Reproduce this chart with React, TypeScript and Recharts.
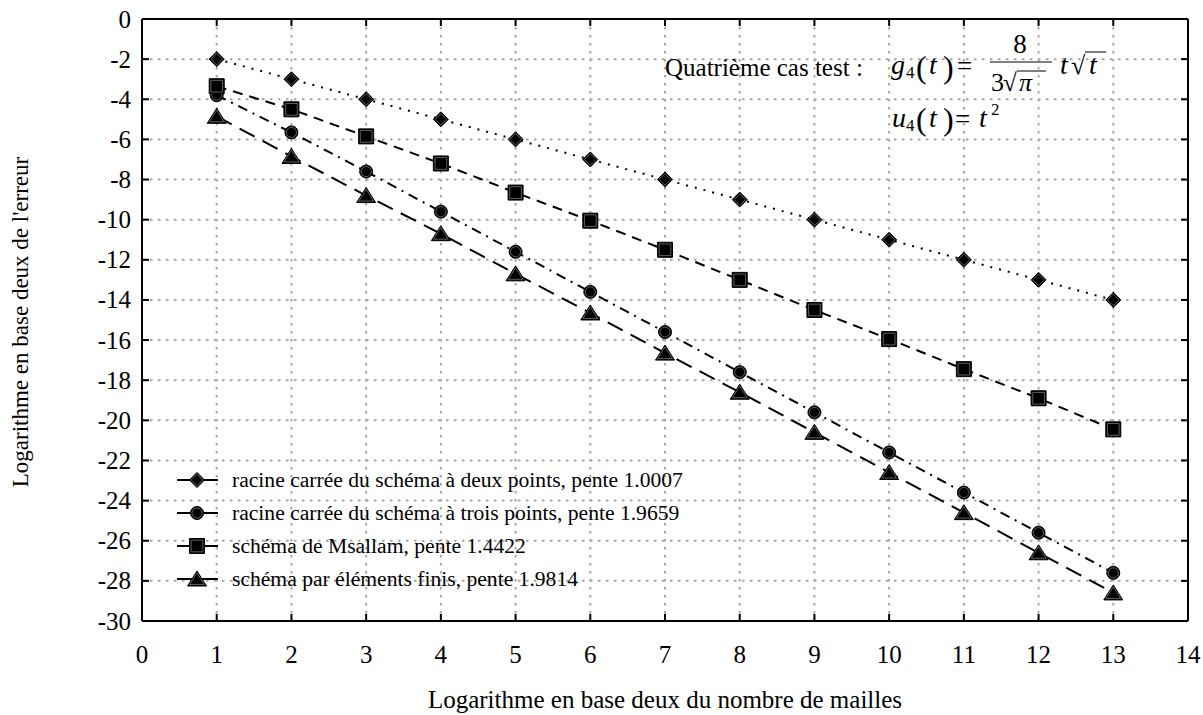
import React from 'react';
import { LineChart, Line, XAxis, YAxis, CartesianGrid, Customized } from 'recharts';

const xValues = [1, 2, 3, 4, 5, 6, 7, 8, 9, 10, 11, 12, 13];
const deuxPoints = [-2, -3, -4, -5, -6, -7, -8, -9, -10, -11, -12, -13, -14];
const troisPoints = [-3.8, -5.65, -7.6, -9.6, -11.6, -13.6, -15.6, -17.6, -19.6, -21.6, -23.6, -25.6, -27.6];
const msallam = [-3.35, -4.5, -5.85, -7.2, -8.65, -10.05, -11.5, -13.0, -14.5, -15.95, -17.45, -18.9, -20.45];
const elementsFinis = [-4.85, -6.85, -8.8, -10.7, -12.7, -14.65, -16.65, -18.6, -20.6, -22.6, -24.6, -26.6, -28.6];

const xTicks = [0, 1, 2, 3, 4, 5, 6, 7, 8, 9, 10, 11, 12, 13, 14];
const yTicks = [0, -2, -4, -6, -8, -10, -12, -14, -16, -18, -20, -22, -24, -26, -28, -30];

const seriesNames = [
  'racine carrée du schéma à deux points, pente 1.0007',
  'racine carrée du schéma à trois points, pente 1.9659',
  'schéma de Msallam, pente 1.4422',
  'schéma par éléments finis, pente 1.9814',
];
const seriesKeys = ['deux', 'trois', 'msallam', 'ef'];
const seriesShapes = ['diamond', 'circle', 'square', 'triangle'];
const seriesDash = ['2 7', '10 6 2 6', '10 7', '17 9'];

const xTitle = 'Logarithme en base deux du nombre de mailles';
const yTitle = "Logarithme en base deux de l'erreur";

const data = xValues.map((x, i) => ({
  x,
  deux: deuxPoints[i],
  trois: troisPoints[i],
  msallam: msallam[i],
  ef: elementsFinis[i],
}));

const FONT = "'Liberation Serif', 'Times New Roman', serif";

function shapePath(kind: string, cx: number, cy: number, s: number) {
  switch (kind) {
    case 'diamond':
      return `M${cx},${cy - 7.5 * s}L${cx + 7.5 * s},${cy}L${cx},${cy + 7.5 * s}L${cx - 7.5 * s},${cy}Z`;
    case 'square':
      return `M${cx - 7.5 * s},${cy - 7.5 * s}H${cx + 7.5 * s}V${cy + 7.5 * s}H${cx - 7.5 * s}Z`;
    case 'triangle':
      return `M${cx},${cy - 8 * s}L${cx + 9.5 * s},${cy + 7 * s}H${cx - 9.5 * s}Z`;
    default: {
      const r = 6.5 * s;
      return `M${cx - r},${cy}A${r},${r} 0 1,0 ${cx + r},${cy}A${r},${r} 0 1,0 ${cx - r},${cy}Z`;
    }
  }
}

function Marker({ kind, cx, cy }: { kind: string; cx: number; cy: number }) {
  return (
    <g>
      <path d={shapePath(kind, cx, cy, 1)} fill="#000" stroke="#000" strokeWidth={1} />
      <path d={shapePath(kind, cx, cy, 0.78)} fill="none" stroke="#777" strokeWidth={0.8} />
    </g>
  );
}

const makeDot = (kind: string) => (props: any) => {
  const { cx, cy, index } = props;
  if (cx == null || cy == null) return <g key={`d-${kind}-${index}`} />;
  return (
    <g key={`d-${kind}-${index}`}>
      <Marker kind={kind} cx={cx} cy={cy} />
    </g>
  );
};

const BottomTick = (props: any) => {
  const { x, y, payload } = props;
  return (
    <g>
      <line x1={x} x2={x} y1={y} y2={y - 7} stroke="#000" strokeWidth={2} />
      <text x={x} y={y + 42} textAnchor="middle" fontFamily={FONT} fontSize={25} fill="#000">
        {payload.value}
      </text>
    </g>
  );
};

const LeftTick = (props: any) => {
  const { x, y, payload } = props;
  return (
    <g>
      <line x1={x} x2={x + 7} y1={y} y2={y} stroke="#000" strokeWidth={2} />
      <text x={x - 11} y={y + 8.5} textAnchor="end" fontFamily={FONT} fontSize={25} fill="#000">
        {payload.value}
      </text>
    </g>
  );
};

const TopTick = (props: any) => {
  const { x, y } = props;
  return <line x1={x} x2={x} y1={y} y2={y + 7} stroke="#000" strokeWidth={2} />;
};

const RightTick = (props: any) => {
  const { x, y } = props;
  return <line x1={x} x2={x - 7} y1={y} y2={y} stroke="#000" strokeWidth={2} />;
};

const LegendSvg = () => {
  const x0 = 177;
  const rows = [480, 513, 546, 579];
  return (
    <g>
      {seriesNames.map((name, i) => {
        const y = rows[i];
        return (
          <g key={name}>
            <line x1={x0} x2={x0 + 41} y1={y} y2={y} stroke="#000" strokeWidth={2} />
            <Marker kind={seriesShapes[i]} cx={x0 + 20} cy={y} />
            <text x={x0 + 55} y={y + 7} fontFamily={FONT} fontSize={21.6} fill="#000">
              {name}
            </text>
          </g>
        );
      })}
    </g>
  );
};

const Annotations = () => {
  const it = { fontFamily: FONT, fontStyle: 'italic' as const, fill: '#000' };
  const up = { fontFamily: FONT, fill: '#000' };
  return (
    <g>
      <text x={665} y={76} fontSize={25} {...up}>Quatrième cas test :</text>
      <text x={891} y={74} fontSize={28} {...it}>g</text>
      <text x={906} y={78} fontSize={17} {...up}>4</text>
      <text x={916} y={78} fontSize={32} {...up}>(</text>
      <text x={929} y={74} fontSize={28} {...it}>t</text>
      <text x={943} y={78} fontSize={32} {...up}>)</text>
      <text x={957} y={75} fontSize={27} {...up}>=</text>
      <text x={1020} y={53} fontSize={27} textAnchor="middle" {...up}>8</text>
      <line x1={990} x2={1052} y1={62} y2={62} stroke="#000" strokeWidth={1.2} />
      <text x={991} y={91} fontSize={26} {...up}>3</text>
      <text x={1003} y={91} fontSize={25} {...up}>√</text>
      <line x1={1017} x2={1046} y1={71} y2={71} stroke="#000" strokeWidth={1} />
      <text x={1019} y={91} fontSize={26} {...it}>π</text>
      <text x={1060} y={74} fontSize={28} {...it}>t</text>
      <text x={1071} y={74} fontSize={26} {...up}>√</text>
      <line x1={1085} x2={1106} y1={52} y2={52} stroke="#000" strokeWidth={1} />
      <text x={1089} y={74} fontSize={28} {...it}>t</text>
      <text x={892} y={127} fontSize={28} {...it}>u</text>
      <text x={906} y={131} fontSize={17} {...up}>4</text>
      <text x={916} y={130} fontSize={32} {...up}>(</text>
      <text x={929} y={127} fontSize={28} {...it}>t</text>
      <text x={943} y={130} fontSize={32} {...up}>)</text>
      <text x={955} y={128} fontSize={27} {...up}>=</text>
      <text x={979} y={127} fontSize={28} {...it}>t</text>
      <text x={991} y={115} fontSize={17} {...up}>2</text>
      <text x={665} y={708} fontSize={25} textAnchor="middle" {...up}>{xTitle}</text>
      <text x={0} y={0} fontSize={23} textAnchor="middle" transform="translate(28,322) rotate(-90)" {...up}>
        {yTitle}
      </text>
      <LegendSvg />
    </g>
  );
};

export default function App() {
  return (
    <div style={{ position: 'absolute', left: 0, top: 0, width: 1203, height: 715, background: '#fff' }}>
      <LineChart
        width={1203}
        height={715}
        data={data}
        margin={{ top: 18, right: 14, bottom: 34, left: 82 }}
        style={{ fontFamily: FONT }}
      >
        <CartesianGrid stroke="#a6a6a6" strokeWidth={2} strokeDasharray="2.5 5.5" />
        <XAxis
          xAxisId={0}
          dataKey="x"
          type="number"
          domain={[0, 14]}
          ticks={xTicks}
          height={60}
          tickSize={0}
          tickMargin={0}
          tickLine={false}
          axisLine={{ stroke: '#000', strokeWidth: 2 }}
          tick={BottomTick}
          interval={0}
          allowDataOverflow
        />
        <XAxis
          xAxisId="top"
          orientation="top"
          dataKey="x"
          type="number"
          domain={[0, 14]}
          ticks={xTicks}
          height={1}
          tickSize={0}
          tickMargin={0}
          tickLine={false}
          axisLine={{ stroke: '#000', strokeWidth: 2 }}
          tick={TopTick}
          interval={0}
          allowDataOverflow
        />
        <YAxis
          yAxisId={0}
          type="number"
          domain={[-30, 0]}
          ticks={yTicks}
          width={60}
          tickSize={0}
          tickMargin={0}
          tickLine={false}
          axisLine={{ stroke: '#000', strokeWidth: 2 }}
          tick={LeftTick}
          interval={0}
          allowDataOverflow
        />
        <YAxis
          yAxisId="right"
          orientation="right"
          type="number"
          domain={[-30, 0]}
          ticks={yTicks}
          width={1}
          tickSize={0}
          tickMargin={0}
          tickLine={false}
          axisLine={{ stroke: '#000', strokeWidth: 2 }}
          tick={RightTick}
          interval={0}
          allowDataOverflow
        />
        {seriesKeys.map((k, i) => (
          <Line
            key={k}
            xAxisId={0}
            yAxisId={0}
            dataKey={k}
            name={seriesNames[i]}
            stroke="#000"
            strokeWidth={2}
            strokeDasharray={seriesDash[i]}
            dot={makeDot(seriesShapes[i])}
            activeDot={false}
            isAnimationActive={false}
          />
        ))}
        <Customized component={<Annotations />} />
      </LineChart>
    </div>
  );
}
